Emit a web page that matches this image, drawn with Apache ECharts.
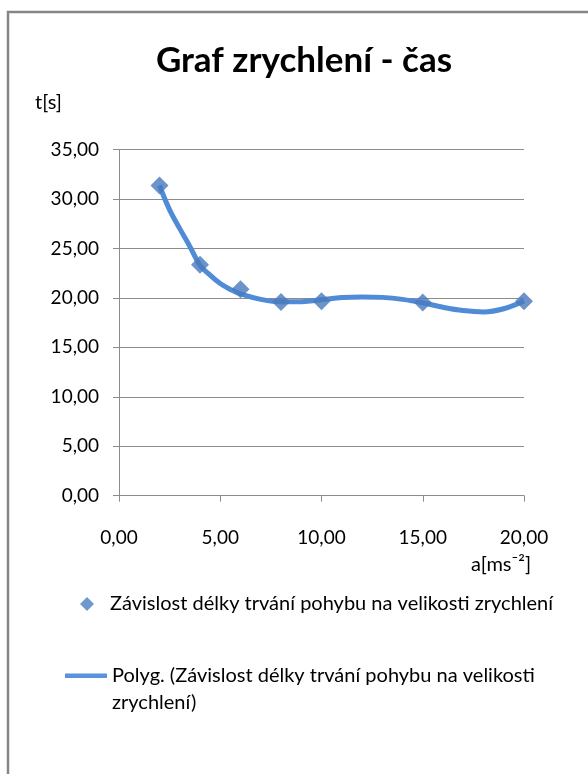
<!DOCTYPE html>
<html>
<head>
<meta charset="utf-8">
<style>
  html, body { margin: 0; padding: 0; background: #fff; }
  #chart { width: 588px; height: 774px; }
</style>
<script src="https://cdn.jsdelivr.net/npm/echarts@6/dist/echarts.min.js"></script>
</head>
<body>
<div id="chart"></div>
<script>
// Measured acceleration a [m/s^2] and duration t [s]
const accel = [2, 4, 6, 8, 10, 15, 20];
const duration = [31.36, 23.34, 20.86, 19.58, 19.66, 19.52, 19.66];

// Polynomial trend curve, sampled along a
const trendA = [2, 2.5, 3, 3.5, 4, 4.5, 5, 5.5, 6, 7, 8, 9, 10, 11, 12, 13, 14, 15, 16, 17, 18, 19, 20];
const trendT = [31.36, 28.9, 27.0, 25.2, 23.3, 22.3, 21.45, 20.85, 20.4, 19.85, 19.6, 19.62, 19.8, 20.03, 20.1, 20.05, 19.85, 19.5, 19.05, 18.72, 18.58, 18.9, 19.68];

const xTicks = { min: 0, max: 20, step: 5 };
const yTicks = { min: 0, max: 35, step: 5 };

const titleText = 'Graf zrychlení - čas';
const xName = 'a[ms⁻²]';
const yName = 't[s]';
const pointsName = 'Závislost délky trvání pohybu na velikosti zrychlení';
const trendName = 'Polyg. (Závislost délky trvání pohybu na velikosti zrychlení)';
const trendLegendText = 'Polyg. (Závislost délky trvání pohybu na velikosti\nzrychlení)';

const FONT = 'Lato';
const fmt = v => v.toFixed(2).replace('.', ',');

// Legend bar for the trend line: a thin bar at the top of a taller box,
// so that it lines up with the first line of the two-line label
const trendIcon = 'path://M0,0L42,0L42,4.5L0,4.5Z M0,31L0,31Z';

const chart = echarts.init(document.getElementById('chart'), null, { renderer: 'canvas' });

chart.setOption({
  backgroundColor: '#ffffff',
  animation: false,
  title: {
    text: titleText,
    left: 304,
    textAlign: 'center',
    top: 43,
    padding: 0,
    textStyle: { fontFamily: FONT, fontSize: 35, fontWeight: 'bold', color: '#000' }
  },
  graphic: [
    {
      type: 'rect',
      shape: { x: 8, y: 12, width: 700, height: 900 },
      style: { fill: 'none', stroke: '#868686', lineWidth: 2.5 },
      silent: true
    },
    {
      type: 'text',
      left: 35,
      top: 93,
      style: { text: yName, font: '20px ' + FONT, fill: '#000' }
    },
    {
      type: 'text',
      right: 57,
      top: 555,
      style: { text: xName, font: '20px ' + FONT, fill: '#000' }
    }
  ],
  grid: { left: 119, right: 64, top: 149.5, bottom: 278.3, containLabel: false },
  xAxis: {
    type: 'value',
    min: xTicks.min, max: xTicks.max, interval: xTicks.step,
    axisLine: { show: true, lineStyle: { color: '#8c8c8c', width: 1 } },
    axisTick: { show: true, length: 6, lineStyle: { color: '#8c8c8c' } },
    axisLabel: { margin: 33, formatter: fmt, fontFamily: FONT, fontSize: 19, color: '#000' },
    splitLine: { show: false }
  },
  yAxis: {
    type: 'value',
    min: yTicks.min, max: yTicks.max, interval: yTicks.step,
    axisLine: { show: true, lineStyle: { color: '#8c8c8c', width: 1 } },
    axisTick: { show: true, length: 6, lineStyle: { color: '#8c8c8c' } },
    axisLabel: { margin: 20, formatter: fmt, fontFamily: FONT, fontSize: 19, color: '#000' },
    splitLine: { show: true, lineStyle: { color: '#8c8c8c', width: 1 } }
  },
  legend: [
    {
      data: [{ name: pointsName, icon: 'diamond' }],
      orient: 'vertical',
      left: 80, top: 594,
      padding: 0,
      itemWidth: 14, itemHeight: 14,
      itemStyle: { color: '#4a7fc0' },
      textStyle: { fontFamily: FONT, fontSize: 20, color: '#000', padding: [0, 0, 0, 11] },
      selectedMode: false
    },
    {
      data: [{ name: trendName, icon: trendIcon }],
      orient: 'vertical',
      left: 65, top: 662,
      padding: 0,
      itemWidth: 42, itemHeight: 31,
      itemStyle: { color: '#5b93da', borderWidth: 0 },
      lineStyle: { width: 0 },
      formatter: () => trendLegendText,
      textStyle: { fontFamily: FONT, fontSize: 20, color: '#000', lineHeight: 27 },
      selectedMode: false
    }
  ],
  series: [
    {
      name: trendName,
      type: 'line',
      data: trendA.map((a, i) => [a, trendT[i]]),
      smooth: 0.4,
      showSymbol: false,
      symbol: 'none',
      lineStyle: { color: '#4f8bd6', width: 5 },
      itemStyle: { color: '#4f8bd6' },
      z: 2
    },
    {
      name: pointsName,
      type: 'scatter',
      data: accel.map((a, i) => [a, duration[i]]),
      symbol: 'diamond',
      symbolSize: 18,
      itemStyle: { color: '#4879bd' },
      z: 3
    }
  ]
});
</script>
</body>
</html>
